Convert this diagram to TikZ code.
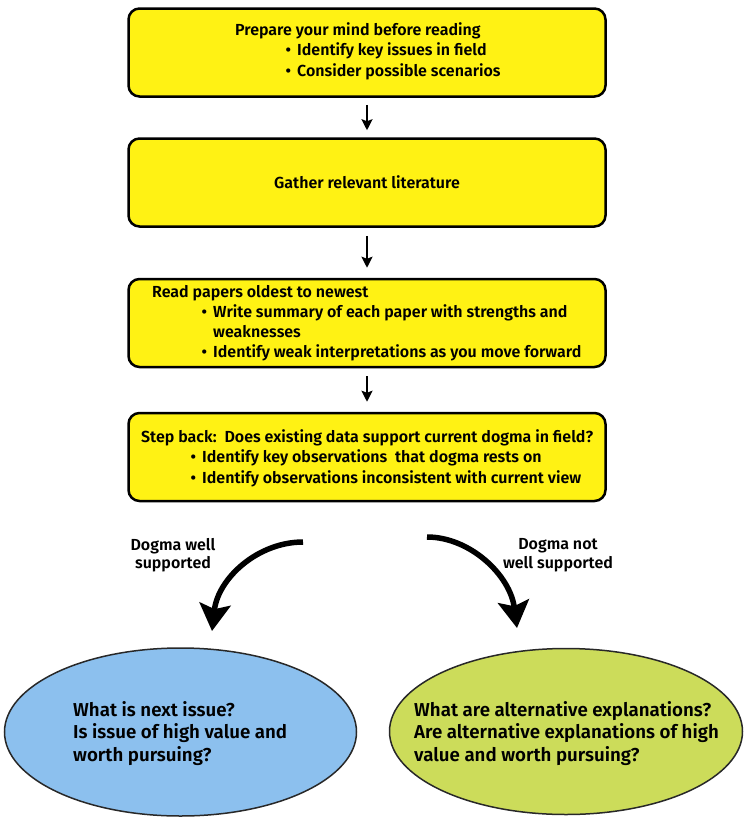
\documentclass[tikz,border=0pt]{standalone}
\usepackage{fontspec}
\setmainfont{Fira Sans}[BoldFont={Fira Sans SemiBold}]
\usetikzlibrary{arrows.meta,shapes.geometric}
\definecolor{boxyellow}{RGB}{255,242,20}
\definecolor{ellblue}{RGB}{140,192,238}
\definecolor{ellgreen}{RGB}{204,220,90}
\definecolor{ellline}{RGB}{40,40,40}
\begin{document}
\begin{tikzpicture}[x=1pt,y=-1pt,
  flowbox/.style={draw=black, line width=2.5pt, fill=boxyellow, rounded corners=11pt,
    minimum width=477pt, minimum height=88pt, inner sep=0pt,
    font=\fontsize{16}{18}\selectfont\bfseries},
  txt/.style={anchor=base west, inner sep=0pt, font=\fontsize{16}{18}\selectfont\bfseries},
  lbl/.style={anchor=base, inner sep=0pt, font=\fontsize{16}{18}\selectfont\bfseries},
  etxt/.style={anchor=base west, inner sep=0pt, font=\fontsize{18.7}{20}\selectfont\bfseries},
  ell/.style={ellipse, draw=ellline, line width=1.5pt, inner sep=0pt},
  sarrow/.style={line width=2.2pt, -{Stealth[length=11pt,width=11pt,inset=2pt]}},
  carrow/.style={line width=5.5pt, -{Stealth[length=27pt,width=31pt,inset=5pt]}}
]
\useasboundingbox (0,0) rectangle (750,825);
\fill[white] (0,0) rectangle (750,825);

% boxes
\node[flowbox] (b1) at (367,52.5) {};
\node[flowbox] (b2) at (367,182.5) {Gather relevant literature};
\node[flowbox] (b3) at (367,323) {};
\node[flowbox] (b4) at (367,457) {};

% box 1 text
\node[txt] (t11) at (235,35) {Prepare your mind before reading};
\node[txt] (t12) at (297,55) {\llap{•\hspace{6pt}}Identify key issues in field};
\node[txt] (t13) at (297,76) {\llap{•\hspace{6pt}}Consider possible scenarios};

% box 3 text
\node[txt] (t31) at (152,297) {Read papers oldest to newest};
\node[txt] (t32) at (213,317) {\llap{•\hspace{6pt}}Write summary of each paper with strengths and};
\node[txt] (t33) at (213,337) {weaknesses};
\node[txt] (t34) at (213,357) {\llap{•\hspace{6pt}}Identify weak interpretations as you move forward};

% box 4 text
\node[txt] (t41) at (141,442) {Step back:\ \ Does existing data support current dogma in field?};
\node[txt] (t42) at (202,462) {\llap{•\hspace{6pt}}Identify key observations\ \ that dogma rests on};
\node[txt] (t43) at (202,483) {\llap{•\hspace{6pt}}Identify observations inconsistent with current view};

% straight arrows
\draw[sarrow, shorten <=7pt, shorten >=7pt] (b1.south) -- (b2.north);
\draw[sarrow, shorten <=8pt, shorten >=10pt] (b2.south) -- (b3.north);
\draw[sarrow, shorten <=8pt, shorten >=10pt] (b3.south) -- (b4.north);

% ellipses
\node[ell, fill=ellblue, minimum width=352pt, minimum height=168pt] (e1) at (180.5,732) {};
\node[ell, fill=ellgreen, minimum width=353pt, minimum height=166pt] (e2) at (566,731.5) {};

\node[etxt] (e11) at (73,716) {What is next issue?};
\node[etxt] (e12) at (73,738.5) {Is issue of high value and};
\node[etxt] (e13) at (73,761) {worth pursuing?};

\node[etxt] (e21) at (414,716) {What are alternative explanations?};
\node[etxt] (e22) at (414,738.5) {Are alternative explanations of high};
\node[etxt] (e23) at (414,761) {value and worth pursuing?};

% curved arrows
\coordinate (ls) at (303,542);
\coordinate (le) at (212,631);
\coordinate (rs) at (427,537);
\coordinate (re) at (517,628);
\draw[carrow] (ls) .. controls (258,542) and (218,578) .. (le);
\draw[carrow] (rs) .. controls (470,537) and (510,575) .. (re);

% labels
\node[lbl] (l1) at (173,550) {Dogma well};
\node[lbl] (l2) at (173,568) {supported};
\node[lbl] (r1) at (558,549) {Dogma not};
\node[lbl] (r2) at (558,568) {well supported};
\end{tikzpicture}
\end{document}
